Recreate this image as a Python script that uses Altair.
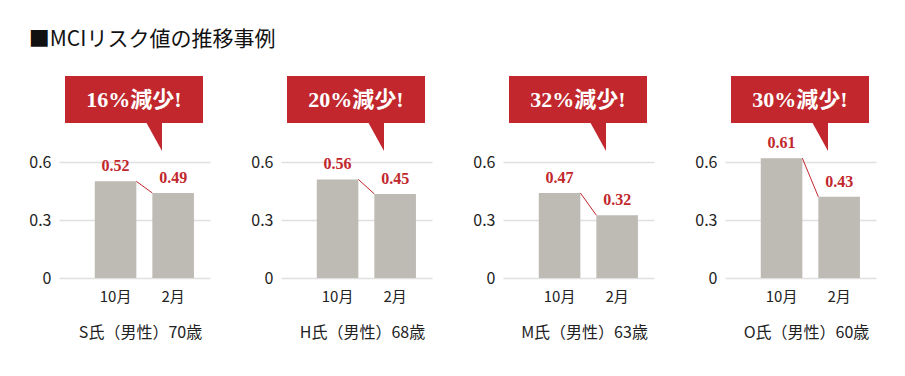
import altair as alt
import pandas as pd

persons = ["S氏（男性）70歳", "H氏（男性）68歳", "M氏（男性）63歳", "O氏（男性）60歳"]
months = ["10月", "2月"]
oct_values = [0.50, 0.51, 0.44, 0.62]
feb_values = [0.44, 0.435, 0.325, 0.42]
oct_labels = ["0.52", "0.56", "0.47", "0.61"]
feb_labels = ["0.49", "0.45", "0.32", "0.43"]
reductions = ["16%減少!", "20%減少!", "32%減少!", "30%減少!"]
y_ticks = [0, 0.3, 0.6]
title_text = "■MCIリスク値の推移事例"

RED = "#c1272d"
BAR = "#bebab4"
GRID = "#e0e0e0"
SANS = "Noto Sans CJK JP"
SERIF = "Liberation Serif, 'Noto Sans CJK JP'"

W, H = 151, 202


def panel(i):
    bars_df = pd.DataFrame({
        "month": months,
        "value": [oct_values[i], feb_values[i]],
        "label": [oct_labels[i], feb_labels[i]],
    })
    link_df = pd.DataFrame({"m1": [months[0]], "m2": [months[1]],
                            "v1": [oct_values[i]], "v2": [feb_values[i]]})
    call_df = pd.DataFrame({"text": [reductions[i]]})

    xs = alt.Scale(domain=months, paddingInner=0.278, paddingOuter=0.45, align=0.69)
    ys = alt.Scale(domain=[0, 1.045], nice=False)
    xaxis = alt.Axis(
        title=persons[i], labelAngle=0, ticks=False, domain=False,
        labelFontSize=15, labelPadding=11, labelFont=SANS, labelColor="#222",
        titleFont=SANS, titleFontSize=16, titleFontWeight="normal",
        titlePadding=20, titleColor="#222", titleX=81)
    yaxis = alt.Axis(
        values=y_ticks, title=None, ticks=False, domain=False, grid=True,
        gridColor=GRID, gridWidth=1.5, labelFont=SANS, labelFontSize=16,
        labelPadding=8, labelColor="#222",
        labelExpr="datum.value == 0 ? '0' : format(datum.value, '.1f')")

    bars = alt.Chart(bars_df).mark_bar(color=BAR).encode(
        x=alt.X("month:N", scale=xs, axis=xaxis, title=persons[i]),
        y=alt.Y("value:Q", scale=ys, axis=yaxis, title=None))
    labels = alt.Chart(bars_df).mark_text(
        color=RED, font=SERIF, fontSize=16, fontWeight="bold",
        baseline="alphabetic", dy=-10).encode(
        x=alt.X("month:N", title=persons[i]), y=alt.Y("value:Q", title=None),
        text="label:N")
    link = alt.Chart(link_df).mark_rule(
        color=RED, strokeWidth=1, xOffset=20.8, x2Offset=-20.8).encode(
        x=alt.X("m1:N", title=persons[i]), x2="m2:N",
        y=alt.Y("v1:Q", title=None), y2="v2:Q")
    box = alt.Chart(call_df).mark_rect(color=RED).encode(
        x=alt.value(6), x2=alt.value(144), y=alt.value(0), y2=alt.value(47))
    tip = alt.Chart(call_df).mark_point(
        shape="M -16 -1 L 0 -1 L 0 28 Z", size=4, filled=True, color=RED,
        opacity=1, strokeWidth=0).encode(x=alt.value(103), y=alt.value(47))
    txt = alt.Chart(call_df).mark_text(
        color="white", font=SERIF, fontSize=22, fontWeight="bold",
        baseline="middle").encode(x=alt.value(75), y=alt.value(23.5), text="text:N")
    return alt.layer(bars, link, labels, box, tip, txt).properties(width=W, height=H)


chart = alt.hconcat(*[panel(i) for i in range(4)], spacing=40).properties(
    title=alt.TitleParams(text=title_text, anchor="start", font=SANS, fontSize=21,
                          fontWeight="normal", color="#111", offset=26),
    padding={"left": 28, "top": 29, "right": 5, "bottom": 5},
).configure_view(stroke=None)

chart.save("out.html", embed_options={"renderer": "svg", "actions": False})
